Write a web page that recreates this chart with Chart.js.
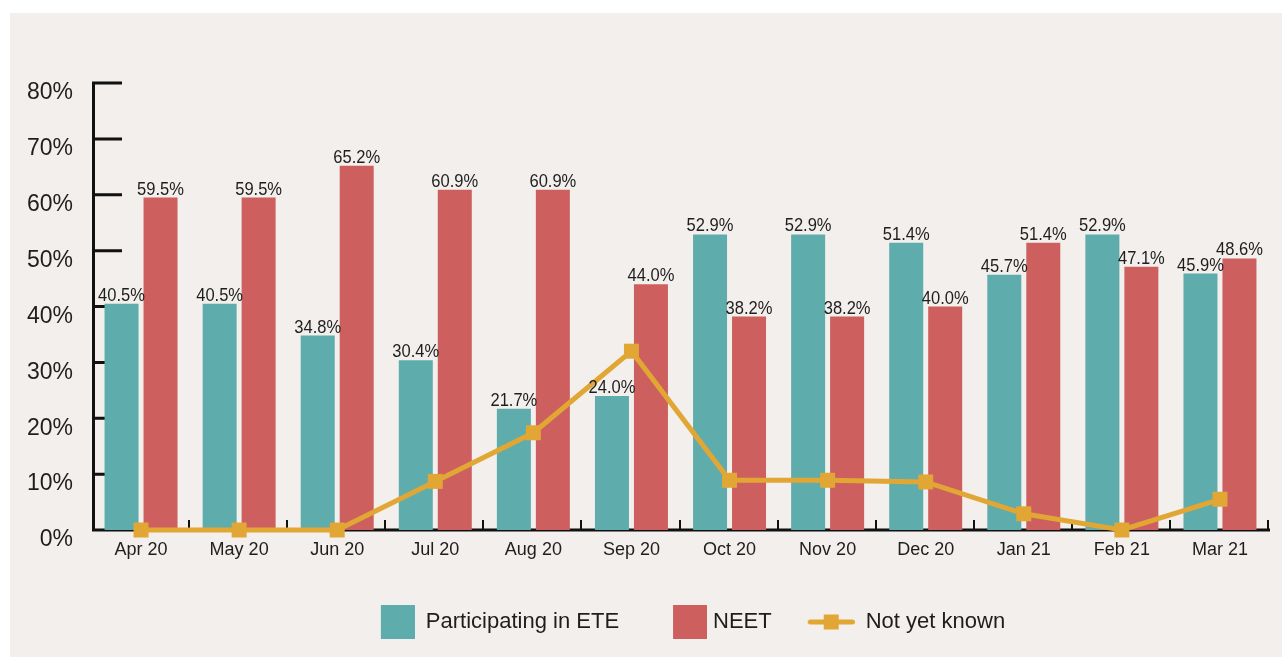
<!DOCTYPE html>
<html>
<head>
<meta charset="utf-8">
<script src="https://cdn.jsdelivr.net/npm/chart.js@4"></script>
<style>
	html, body { margin: 0; padding: 0; background: #fff; }
	#panel { position: absolute; left: 10px; top: 13px; width: 1272px; height: 644px; background: #f2efec; }
</style>
</head>
<body>
<div id="panel"><canvas id="chart" width="1272" height="644"></canvas></div>
<script>
var months = ["Apr 20", "May 20", "Jun 20", "Jul 20", "Aug 20", "Sep 20", "Oct 20", "Nov 20", "Dec 20", "Jan 21", "Feb 21", "Mar 21"];
var eteValues = [40.5, 40.5, 34.8, 30.4, 21.7, 24.0, 52.9, 52.9, 51.4, 45.7, 52.9, 45.9];
var neetValues = [59.5, 59.5, 65.2, 60.9, 60.9, 44.0, 38.2, 38.2, 40.0, 51.4, 47.1, 48.6];
var unknownValues = [0, 0, 0, 8.7, 17.4, 32.0, 8.9, 8.9, 8.6, 2.9, 0, 5.5];
var yTicks = [0, 10, 20, 30, 40, 50, 60, 70, 80];
var seriesNames = ["Participating in ETE", "NEET", "Not yet known"];

var teal = "#5eadac", red = "#cd5f5e", gold = "#e1a633", ink = "#1e1e1e";
var W = 73; // legend box slot width

function boxImage(color, extra) {
	var c = document.createElement("canvas");
	c.width = W + extra;
	c.height = 34;
	var g = c.getContext("2d");
	g.fillStyle = color;
	g.fillRect(c.width - 34, 0, 34, 34);
	return c;
}
function lineImage() {
	var c = document.createElement("canvas");
	c.width = W;
	c.height = 20;
	var g = c.getContext("2d");
	g.strokeStyle = gold;
	g.lineWidth = 5;
	g.lineCap = "round";
	g.beginPath();
	g.moveTo(W - 44.5, 10);
	g.lineTo(W - 2.5, 10);
	g.stroke();
	g.fillStyle = gold;
	g.fillRect(W - 31, 2.5, 15, 15);
	return c;
}
var legendImages = [boxImage(teal, 0), boxImage(red, 10), lineImage()];

var axisPlugin = {
	id: "axisLines",
	afterLayout: function (chart) {
		// legend row sits a bit left of the plot centre in the source
		chart.legend.left -= 7;
		chart.legend.right -= 7;
	},
	beforeDatasetsDraw: function (chart) {
		var ctx = chart.ctx, a = chart.chartArea, y = chart.scales.y, x = chart.scales.x;
		ctx.save();
		ctx.strokeStyle = "#111";
		ctx.lineWidth = 3;
		ctx.beginPath();
		ctx.moveTo(a.left + 1.5, a.top - 1.5);
		ctx.lineTo(a.left + 1.5, a.bottom);
		ctx.lineTo(a.right + 1, a.bottom);
		yTicks.forEach(function (v) {
			var py = y.getPixelForValue(v);
			ctx.moveTo(a.left, py);
			ctx.lineTo(a.left + 30, py);
		});
		ctx.stroke();
		ctx.lineWidth = 2;
		ctx.beginPath();
		var step = (x.right - x.left) / months.length;
		for (var i = 1; i <= months.length; i++) {
			var px = Math.round(x.left + step * i) - 1;
			ctx.moveTo(px, a.bottom);
			ctx.lineTo(px, a.bottom - 10);
		}
		ctx.stroke();
		ctx.restore();
	},
	afterDatasetsDraw: function (chart) {
		var ctx = chart.ctx;
		ctx.save();
		ctx.font = '19px "Liberation Sans", Arial, sans-serif';
		ctx.fillStyle = ink;
		ctx.textAlign = "center";
		ctx.textBaseline = "alphabetic";
		[0, 1].forEach(function (di) {
			var meta = chart.getDatasetMeta(di);
			meta.data.forEach(function (bar, i) {
				var v = chart.data.datasets[di].data[i];
				// narrow the face a little, the source uses a condensed font
				ctx.save();
				ctx.translate(bar.x, bar.y - 3);
				ctx.scale(0.87, 1);
				ctx.fillText(v.toFixed(1) + "%", 0, 0);
				ctx.restore();
			});
		});
		ctx.restore();
	},
};

new Chart(document.getElementById("chart"), {
	type: "bar",
	data: {
		labels: months,
		datasets: [
			{
				label: seriesNames[0],
				data: eteValues,
				backgroundColor: teal,
				categoryPercentage: 0.795,
				barPercentage: 0.872,
				order: 1,
			},
			{
				label: seriesNames[1],
				data: neetValues,
				backgroundColor: red,
				categoryPercentage: 0.795,
				barPercentage: 0.872,
				order: 1,
			},
			{
				type: "line",
				label: seriesNames[2],
				data: unknownValues,
				borderColor: gold,
				backgroundColor: gold,
				borderWidth: 5,
				pointStyle: "rect",
				pointRadius: 10.6,
				pointBorderWidth: 0,
				pointBackgroundColor: gold,
				tension: 0,
				clip: false,
				order: 0,
			},
		],
	},
	options: {
		responsive: false,
		animation: false,
		layout: { padding: { left: 0, right: 13, top: 70, bottom: 14 } },
		scales: {
			x: {
				grid: { display: false, drawTicks: false },
				border: { display: false },
				ticks: {
					color: ink,
					padding: 9,
					font: { family: '"Liberation Sans", Arial, sans-serif', size: 18 },
				},
				afterFit: function (s) { s.height = 71; },
			},
			y: {
				min: 0,
				max: 80,
				grid: { display: false, drawTicks: false },
				border: { display: false },
				afterBuildTicks: function (s) {
					s.ticks = yTicks.map(function (v) { return { value: v }; });
				},
				ticks: {
					color: ink,
					padding: 19,
					labelOffset: 10,
					font: { family: '"Liberation Sans", Arial, sans-serif', size: 23 },
					callback: function (v) { return v + "%"; },
				},
				afterFit: function (s) { s.width = 82; },
			},
		},
		plugins: {
			tooltip: { enabled: false },
			legend: {
				position: "bottom",
				fullSize: false,
				labels: {
					usePointStyle: true,
					pointStyleWidth: W,
					padding: 10,
					color: ink,
					font: { family: '"Liberation Sans", Arial, sans-serif', size: 22 },
					generateLabels: function () {
						return seriesNames.map(function (n, i) {
							return {
								text: n,
								pointStyle: legendImages[i],
								fillStyle: "transparent",
								strokeStyle: "transparent",
								lineWidth: 0,
								hidden: false,
								datasetIndex: i,
								fontColor: ink,
							};
						});
					},
				},
			},
		},
	},
	plugins: [axisPlugin],
});
</script>
</body>
</html>
